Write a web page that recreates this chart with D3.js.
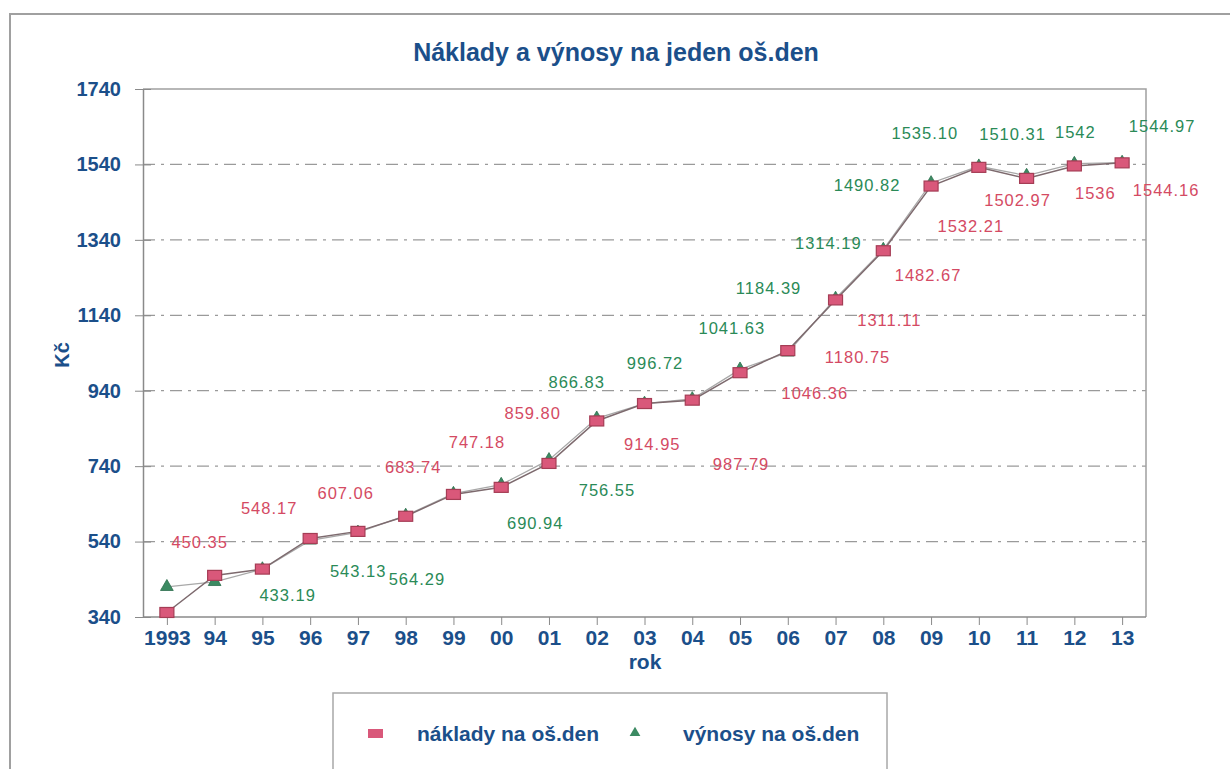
<!DOCTYPE html>
<html><head><meta charset="utf-8">
<script src="https://cdn.jsdelivr.net/npm/d3@7"></script>
<style>
html,body{margin:0;padding:0;background:#fff;}
svg{display:block;}
text{font-family:"Liberation Sans",Arial,sans-serif;}
</style></head>
<body>
<svg id="chart" width="1230" height="769"></svg>
<script>
// ---- data ----
const years = [1993,1994,1995,1996,1997,1998,1999,2000,2001,2002,2003,2004,2005,2006,2007,2008,2009,2010,2011,2012,2013];
const xTickLabels = ["1993","94","95","96","97","98","99","00","01","02","03","04","05","06","07","08","09","10","11","12","13"];
const naklady = [352,450.35,467,548.17,567,607.06,665,683.74,747.18,859.80,906,914.95,987.79,1046.36,1180.75,1311.11,1482.67,1532.21,1502.97,1536,1544.16];
const vynosy  = [420,433.19,467,543.13,564.29,609,667,690.94,756.55,866.83,906,918,996.72,1041.63,1184.39,1314.19,1490.82,1535.10,1510.31,1542,1544.97];
const yTicks = [340,540,740,940,1140,1340,1540,1740];
const naklLabelYears = [1994,1996,1998,2000,2001,2002,2004,2005,2006,2007,2008,2009,2010,2011,2012,2013];
const vynLabelYears  = [1994,1996,1997,2000,2001,2002,2005,2006,2007,2008,2009,2010,2011,2012,2013];
const seriesNames = ["náklady na oš.den","výnosy na oš.den"];

// ---- layout (label nudges in px relative to the point) ----
const naklNudge = {1994:[-15,-33],1996:[-41,-30],1998:[-60,-23],2000:[-88,-20],2001:[-72,-21],2002:[-64,-8],
  2004:[-40,44],2005:[1,91],2006:[27,42],2007:[22,57],2008:[6,69],2009:[-3,89],2010:[-8,59],2011:[-9,22],2012:[21,27],2013:[44,27]};
const vynNudge = {1994:[73,13],1996:[48,31],1997:[59,47],2000:[34,38],2001:[58,30],2002:[-20,-36],
  2005:[-85,-6],2006:[-56,-24],2007:[-67,-10],2008:[-55,-7],2009:[-64,2],2010:[-54,-33],2011:[-14,-42],2012:[1,-32],2013:[40,-36]};

const BLUE = "#1b4f8a", RED = "#d44a63", GREEN = "#2a8a57", GRID = "#9a9a9a";
const svg = d3.select("#chart");
svg.append("rect").attr("width",1230).attr("height",769).attr("fill","#fff");

// outer frame
svg.append("path").attr("d","M10,769V14H1230").attr("fill","none").attr("stroke","#a0a0a0").attr("stroke-width",2);

const L=143, R=1146, T=89, B=617;
const x = d3.scalePoint().domain(years).range([L,R]).padding(0.5);
const y = d3.scaleLinear().domain([340,1740]).range([B,T]);

// title
svg.append("text").attr("x",616).attr("y",61).attr("text-anchor","middle")
  .attr("font-size",25).attr("font-weight","bold").attr("fill",BLUE)
  .text("Náklady a výnosy na jeden oš.den");

// gridlines
svg.append("g").selectAll("line").data(yTicks.filter(v=>v>340&&v<1740)).join("line")
  .attr("x1",L).attr("x2",R).attr("y1",d=>y(d)).attr("y2",d=>y(d))
  .attr("stroke",GRID).attr("stroke-width",1.3).attr("stroke-dasharray","12,6,3,6");

// plot frame top/right
svg.append("path").attr("d",`M${L},${T}H${R}V${B}`).attr("fill","none").attr("stroke","#a0a0a0").attr("stroke-width",1.5);

// y axis
const yAxis = d3.axisLeft(y).tickValues(yTicks).tickFormat(d3.format("d")).tickSize(8).tickSizeOuter(0);
const gy = svg.append("g").attr("transform",`translate(${L},0)`).call(yAxis);
gy.select(".domain").attr("stroke","#8a8a8a").attr("stroke-width",1.5);
gy.selectAll(".tick line").attr("stroke","#8a8a8a").attr("x2",8).attr("x1",-8);
gy.selectAll(".tick text").attr("font-size",20).attr("font-weight","bold").attr("fill",BLUE)
  .attr("font-family","Liberation Sans, Arial, sans-serif").attr("x",-22);

// x axis
const xAxis = d3.axisBottom(x).tickFormat((d,i)=>xTickLabels[i]).tickSize(8).tickSizeOuter(0).tickPadding(5);
const gx = svg.append("g").attr("transform",`translate(0,${B})`).call(xAxis);
gx.select(".domain").attr("stroke","#8a8a8a").attr("stroke-width",1.5).attr("d",`M${L},0H${R}`);
gx.selectAll(".tick line").attr("stroke","#8a8a8a");
gx.selectAll(".tick text").attr("font-size",21).attr("font-weight","bold").attr("fill",BLUE)
  .attr("font-family","Liberation Sans, Arial, sans-serif");

// axis titles
svg.append("text").attr("x",645).attr("y",669).attr("text-anchor","middle").attr("font-size",21)
  .attr("font-weight","bold").attr("fill",BLUE).text("rok");
svg.append("text").attr("transform","translate(69,355) rotate(-90)").attr("text-anchor","middle")
  .attr("font-size",20).attr("font-weight","bold").attr("fill",BLUE).text("Kč");

// lines
const lineGen = arr => d3.line().x((d,i)=>x(years[i])).y(d=>y(d))(arr);
svg.append("path").attr("d",lineGen(vynosy)).attr("fill","none").attr("stroke","#a8a8a8").attr("stroke-width",1.3);
svg.append("path").attr("d",lineGen(naklady)).attr("fill","none").attr("stroke","#7d6a6e").attr("stroke-width",1.5);

// markers
const tri = d3.symbol().type(d3.symbolTriangle).size(70);
svg.append("g").selectAll("path").data(vynosy).join("path")
  .attr("d",tri).attr("transform",(d,i)=>`translate(${x(years[i])},${y(d)})`)
  .attr("fill","#3b8a62").attr("stroke","#2c6e4c").attr("stroke-width",0.8);
svg.append("g").selectAll("rect").data(naklady).join("rect")
  .attr("x",(d,i)=>x(years[i])-7).attr("y",d=>y(d)-5).attr("width",14).attr("height",10)
  .attr("fill","#d9587a").attr("stroke","#a53d55").attr("stroke-width",1.2);

// labels
const fmt = v => Number.isInteger(v) ? String(v) : v.toFixed(2);
const labG = svg.append("g").attr("font-size",16.5).attr("letter-spacing","1px").attr("text-anchor","middle");
labG.selectAll("text.n").data(naklLabelYears).join("text").attr("class","n")
  .attr("x",d=>x(d)+naklNudge[d][0]).attr("y",d=>y(naklady[years.indexOf(d)])+naklNudge[d][1])
  .attr("dy","0.36em").attr("fill",RED).text(d=>fmt(naklady[years.indexOf(d)]));
labG.selectAll("text.v").data(vynLabelYears).join("text").attr("class","v")
  .attr("x",d=>x(d)+vynNudge[d][0]).attr("y",d=>y(vynosy[years.indexOf(d)])+vynNudge[d][1])
  .attr("dy","0.36em").attr("fill",GREEN).text(d=>fmt(vynosy[years.indexOf(d)]));

// legend
svg.append("rect").attr("x",333).attr("y",693).attr("width",554).attr("height",90)
  .attr("fill","#fff").attr("stroke","#a8a8a8").attr("stroke-width",1.5);
svg.append("rect").attr("x",368).attr("y",729).attr("width",15).attr("height",9).attr("fill","#d9587a");
svg.append("text").attr("x",417).attr("y",741).attr("font-size",21).attr("font-weight","bold").attr("fill",BLUE).text(seriesNames[0]);
svg.append("path").attr("d",d3.symbol().type(d3.symbolTriangle).size(50)).attr("transform","translate(635,733)").attr("fill","#3b8a62");
svg.append("text").attr("x",683).attr("y",741).attr("font-size",21).attr("font-weight","bold").attr("fill",BLUE).text(seriesNames[1]);
</script>
</body></html>
